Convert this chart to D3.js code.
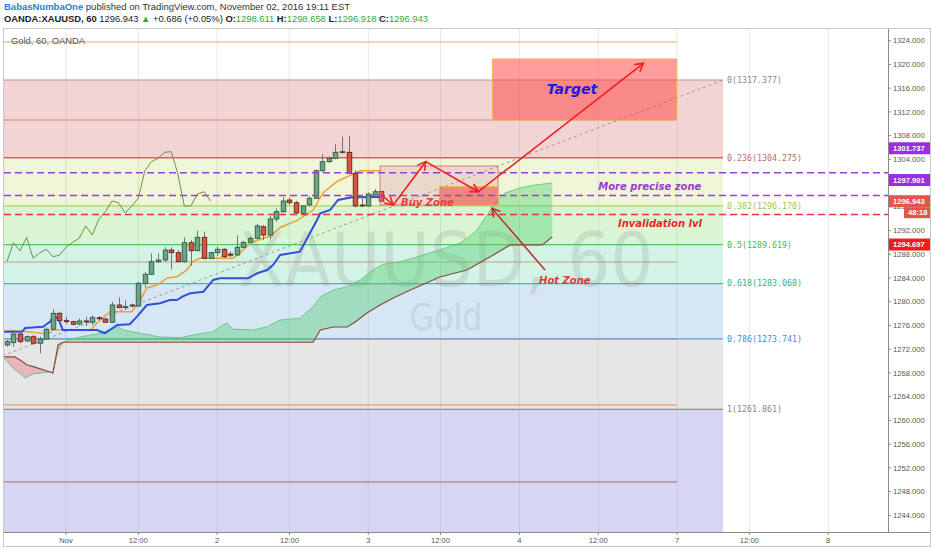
<!DOCTYPE html>
<html><head><meta charset="utf-8">
<script src="https://cdn.jsdelivr.net/npm/d3@7"></script>
<style>body{margin:0;background:#fff;}svg{display:block;font-family:"DejaVu Sans",sans-serif;}</style>
</head><body><svg id="c" width="932" height="550"></svg>
<script>
// ---------------- DATA ----------------
const firstBar = -9; // bar index of the first candle (0 = Nov 1 00:00)
const opens  = [1272.71,1273.10,1274.56,1273.38,1274.11,1273.00,1273.72,1275.36,1278.05,1276.81,1276.64,1276.25,1276.76,1276.54,1277.31,1277.09,1276.54,1279.45,1279.00,1279.45,1279.28,1283.11,1284.63,1286.75,1287.04,1288.72,1288.27,1286.75,1289.95,1288.60,1290.86,1287.32,1288.27,1288.84,1288.05,1287.88,1289.18,1290.02,1290.69,1292.65,1291.25,1293.95,1295.18,1297.15,1296.69,1294.91,1296.31,1297.44,1302.09,1303.61,1304.18,1305.19,1305.19,1301.65,1296.31,1296.14,1297.99,1298.61];
const highs  = [1273.55,1275.24,1274.96,1274.30,1274.40,1274.10,1275.70,1278.73,1278.30,1277.43,1276.80,1277.20,1277.43,1277.70,1277.60,1277.20,1280.00,1280.75,1280.20,1279.70,1283.40,1285.00,1288.17,1288.17,1289.20,1289.18,1288.70,1290.86,1290.41,1291.98,1291.81,1288.40,1289.30,1289.00,1288.50,1291.20,1290.30,1291.00,1293.10,1292.90,1294.50,1295.70,1297.60,1297.60,1297.00,1296.30,1297.80,1302.30,1304.85,1304.50,1306.54,1307.82,1307.94,1302.20,1298.00,1298.40,1298.99,1298.66];
const lows   = [1272.42,1272.42,1273.00,1273.20,1272.71,1271.31,1273.60,1275.20,1276.60,1276.25,1276.00,1276.00,1275.90,1276.10,1276.90,1276.40,1276.40,1278.90,1278.60,1279.00,1279.10,1282.40,1284.50,1286.50,1286.70,1285.47,1286.60,1286.60,1286.08,1288.50,1287.16,1287.20,1287.70,1287.40,1287.50,1287.70,1289.00,1289.90,1290.50,1290.40,1290.60,1293.50,1295.00,1296.30,1294.70,1294.80,1296.10,1297.30,1301.80,1303.40,1304.00,1305.00,1301.60,1295.90,1296.00,1296.00,1297.90,1296.92];
const closes = [1273.27,1274.56,1273.27,1274.11,1273.00,1273.72,1275.36,1278.05,1276.81,1276.64,1276.20,1276.76,1276.59,1277.31,1277.14,1276.54,1279.45,1279.00,1279.17,1279.28,1283.11,1284.63,1286.75,1287.04,1288.72,1288.27,1286.75,1289.95,1288.60,1290.86,1287.32,1288.27,1288.84,1287.59,1287.83,1289.18,1290.02,1290.69,1292.77,1291.25,1293.95,1295.18,1296.98,1296.69,1294.96,1296.14,1297.44,1302.09,1303.61,1304.18,1305.19,1305.30,1301.65,1296.14,1296.14,1298.16,1298.55,1296.94];

// Ichimoku lines, vertices as [bar index, price]
const tenkan = [[-9.4,1275.07],[-7.0,1275.07],[-4.0,1274.73],[-2.7,1274.56],[-2.0,1275.24],[3.7,1275.24],[4.7,1276.42],[5.6,1277.26],[6.7,1278.32],[10.0,1278.32],[10.8,1279.45],[11.3,1280.29],[12.3,1282.32],[13.9,1282.82],[15.4,1284.00],[16.9,1284.22],[18.4,1285.35],[19.3,1286.75],[20.4,1287.37],[25.4,1287.32],[26.5,1288.22],[28.0,1289.90],[30.0,1290.69],[31.1,1291.08],[32.6,1292.51],[35.2,1293.70],[37.6,1295.46],[39.1,1298.33],[41.2,1300.23],[42.8,1301.08],[44.8,1302.09],[48.0,1302.09]];
const kijun = [[-9.4,1274.95],[-6.7,1274.95],[-6.2,1275.58],[-3.5,1275.79],[-2.4,1276.64],[-2.0,1277.48],[-1.2,1277.26],[-0.5,1275.24],[4.7,1275.24],[5.9,1274.68],[7.8,1276.08],[9.7,1276.20],[10.8,1277.48],[12.3,1279.45],[14.3,1279.74],[15.8,1280.29],[16.9,1280.29],[17.7,1280.85],[18.9,1281.42],[20.9,1281.69],[22.4,1283.67],[23.4,1283.95],[27.7,1283.95],[29.1,1284.80],[30.6,1285.35],[31.5,1286.19],[32.6,1287.88],[35.6,1288.44],[36.7,1290.69],[38.2,1293.78],[38.7,1294.91],[40.2,1295.46],[41.4,1297.15],[43.5,1297.61],[48.0,1297.66]];
const chikouStart = -9;
const chikou = [1286.75,1289.95,1288.60,1290.86,1287.32,1288.27,1288.84,1287.59,1287.83,1289.18,1290.02,1290.69,1292.77,1291.25,1293.95,1295.18,1296.98,1296.69,1294.96,1296.14,1297.44,1302.09,1303.61,1304.18,1305.19,1305.30,1301.65,1296.14,1296.14,1298.16,1298.55,1296.94];
const senkouA = [[-9.4,1270.52],[-8.1,1268.83],[-6.2,1267.15],[-5.0,1267.82],[-2.4,1268.16],[-2.0,1267.99],[-1.2,1271.87],[-0.5,1273.05],[0.0,1273.38],[2.1,1274.06],[5.2,1274.68],[7.2,1275.52],[7.9,1275.79],[8.7,1275.24],[11.3,1274.68],[14.3,1274.06],[17.4,1273.94],[19.3,1274.40],[22.4,1274.95],[23.4,1275.79],[24.5,1276.42],[25.4,1275.36],[28.5,1275.24],[30.6,1275.79],[32.6,1276.92],[35.6,1277.21],[37.6,1279.17],[38.7,1280.85],[40.7,1281.98],[42.8,1282.54],[44.8,1283.67],[46.7,1285.35],[48.3,1286.31],[50.8,1286.70],[53.9,1287.71],[56.9,1288.72],[60.0,1289.90],[62.3,1291.76],[63.8,1294.12],[65.3,1296.64],[66.8,1298.33],[69.1,1299.17],[71.4,1299.68],[74.0,1300.02]];
const senkouB = [[-9.4,1270.69],[-7.8,1270.69],[-7.0,1270.18],[-5.9,1269.34],[-5.0,1269.05],[-2.4,1268.16],[-2.0,1267.99],[-1.2,1272.71],[-0.5,1273.17],[37.6,1273.17],[38.7,1275.24],[40.7,1275.74],[42.8,1275.74],[44.0,1276.59],[45.8,1278.10],[47.8,1279.45],[49.8,1280.63],[52.4,1281.98],[56.9,1284.17],[61.0,1285.35],[64.5,1287.54],[67.6,1289.57],[72.5,1289.57],[74.0,1290.91]];

// Fibonacci retracement
const fibRatios = [0,0.236,0.382,0.5,0.618,0.786,1,1.618];
const fibPrices = [1317.377,1304.275,1296.170,1289.619,1283.068,1273.741,1261.861,1227.550];
const fibAnchors = [[-31,1261.861],[100,1317.377]];
// second set of plain levels
const levelPrices = [1323.78,1310.63,1286.70,1273.72,1262.60,1249.62];
const levelEnd = 93;
// horizontal dashed lines
const purpleLines = [1301.737,1297.901];
const redLine = 1294.697;
// boxes [x0,x1,p0,p1]
const buyZone = [47.8,65.75,1302.88,1296.31];
const hotZone = [56.8,65.75,1299.39,1296.31];
const targetBox = [64.9,92.95,1320.92,1310.63];
// arrows
const zigzag = [[48.05,1297.99],[49.8,1296.31],[54.75,1303.61],[62.76,1298.55],[87.87,1320.19]];
const hotArrow = [[72.9,1285.36],[64.8,1295.75]];
const notes = [
  {t:"Target",i:77.0,p:1315.86},
  {t:"Buy Zone",i:51.0,p:1296.14},
  {t:"More precise zone",i:81.0,p:1298.83},
  {t:"Invalidation lvl",i:84.0,p:1292.60},
  {t:"Hot Zone",i:72.0,p:1283.00}
];
// axes
const priceTicks = [1244,1248,1252,1256,1260,1264,1268,1272,1276,1280,1284,1288,1292,1296,1300,1304,1308,1312,1316,1320,1324];
const timeTickIdx = [0,11,23,34,46,57,69,81,93,104,116];
const timeTickLabels = ["Nov","12:00","2","12:00","3","12:00","4","12:00","7","12:00","8"];
const lastPrice = 1296.943;
const countdown = "48:18";

// ---------------- LAYOUT / STYLE ----------------
const P = {l:4, r:888, t:29, b:532};
const x = d3.scaleLinear().domain([-9.44,125.1]).range([P.l,P.r]);
const y = d3.scaleLinear().domain([1244,1324]).range([515.3,40.7]);
const svg = d3.select("#c");
const defs = svg.append("defs");
defs.append("clipPath").attr("id","plot").append("rect").attr("x",P.l).attr("y",P.t).attr("width",P.r-P.l).attr("height",P.b-P.t);

const g = svg.append("g").attr("clip-path","url(#plot)");

// fib fills
const fibFill = ["#f3d4d4","#eff5d7","#d9f5d3","#d3f3e6","#d6e6f5","#e6e6e6","#d6d6f4"];
const fibLine = ["#c49090","#c46a6a","#a8d46c","#5cc35c","#3cc09c","#5c9bd6","#909090","#9090d0"];
const fibText = ["#888","#c46a6a","#a0c850","#4cb54c","#2cb48c","#3c91d6","#888","#88c"];
const fx0 = x(fibAnchors[0][0]), fx1 = x(fibAnchors[1][0]);
for (let k=0;k<fibPrices.length-1;k++){
  g.append("rect").attr("x",fx0).attr("width",fx1-fx0)
   .attr("y",y(fibPrices[k])).attr("height",y(fibPrices[k+1])-y(fibPrices[k]))
   .attr("fill",fibFill[k]);
}
// vertical grid
g.selectAll(".vg").data(timeTickIdx).join("line")
 .attr("x1",d=>x(d)).attr("x2",d=>x(d)).attr("y1",P.t).attr("y2",P.b)
 .attr("stroke","rgba(150,150,150,0.22)").attr("stroke-width",1);

// plain levels
const levelColors = ["#f0a868","#c98a80","#c9a080","#f0a868","#e0a070","#c07878"];
levelPrices.forEach((p,k)=>{
  g.append("line").attr("x1",fx0).attr("x2",x(levelEnd)).attr("y1",y(p)).attr("y2",y(p))
   .attr("stroke",levelColors[k]).attr("stroke-width",1.2);
});
// fib lines + labels (only levels inside the visible price range get a label)
const yDom = [y.invert(P.b), y.invert(P.t)];
fibPrices.forEach((p,k)=>{
  g.append("line").attr("x1",fx0).attr("x2",fx1).attr("y1",y(p)).attr("y2",y(p))
   .attr("stroke",fibLine[k]).attr("stroke-width",k==1?1.6:1.2);
  if (p>=yDom[0] && p<=yDom[1])
  g.append("text").attr("x",fx1+4).attr("y",y(p)).attr("dy","0.35em")
   .attr("font-family","DejaVu Sans Mono").attr("font-size",8.3).attr("fill",fibText[k])
   .text(fibRatios[k]+"("+p.toFixed(3)+")");
});

// watermark
g.append("text").attr("x",(P.l+P.r)/2).attr("y",286).attr("text-anchor","middle")
 .attr("font-family","DejaVu Sans").attr("font-size",74).attr("fill","rgba(130,130,130,0.18)")
 .attr("textLength",415).attr("lengthAdjust","spacingAndGlyphs").text("XAUUSD, 60");
g.append("text").attr("x",(P.l+P.r)/2).attr("y",330).attr("text-anchor","middle")
 .attr("font-family","DejaVu Sans").attr("font-size",38).attr("fill","rgba(130,130,130,0.18)")
 .attr("textLength",73).attr("lengthAdjust","spacingAndGlyphs").text("Gold");

// cloud
const interp = (pts,t)=>{ for(let k=0;k<pts.length-1;k++){ if(t>=pts[k][0]&&t<=pts[k+1][0]){ const u=(t-pts[k][0])/(pts[k+1][0]-pts[k][0]); return pts[k][1]+u*(pts[k+1][1]-pts[k][1]); } } return null; };
let cross = senkouA[0][0];
for (let t=senkouA[0][0]; t<10; t+=0.01){ const a=interp(senkouA,t), b=interp(senkouB,t); if(a!=null&&b!=null&&a>b){cross=t;break;} }
defs.append("clipPath").attr("id","cl").append("rect").attr("x",0).attr("y",0).attr("width",x(cross)).attr("height",550);
defs.append("clipPath").attr("id","cr").append("rect").attr("x",x(cross)).attr("y",0).attr("width",932).attr("height",550);
const poly = senkouA.concat(senkouB.slice().reverse());
const polyPath = "M"+poly.map(d=>x(d[0])+","+y(d[1])).join("L")+"Z";
g.append("g").attr("clip-path","url(#cl)").append("path").attr("d",polyPath).attr("fill","rgba(232,95,105,0.35)");
g.append("g").attr("clip-path","url(#cr)").append("path").attr("d",polyPath).attr("fill","rgba(70,205,105,0.38)");
const line = d3.line().x(d=>x(d[0])).y(d=>y(d[1]));
g.append("path").attr("d",line(senkouA)).attr("fill","none").attr("stroke","rgba(90,190,110,0.75)").attr("stroke-width",1);
g.append("path").attr("d",line(senkouB)).attr("fill","none").attr("stroke","#8b4a3c").attr("stroke-width",1.2);

// trend line of fib tool
g.append("line").attr("x1",x(fibAnchors[0][0])).attr("y1",y(fibAnchors[0][1]))
 .attr("x2",x(fibAnchors[1][0])).attr("y2",y(fibAnchors[1][1]))
 .attr("stroke","#9a9a9a").attr("stroke-width",1).attr("stroke-dasharray","3,3");

// chikou, tenkan, kijun
g.append("path").attr("d",line(chikou.map((v,k)=>[chikouStart+k,v]))).attr("fill","none").attr("stroke","#6f8f45").attr("stroke-width",1);
g.append("path").attr("d",line(tenkan)).attr("fill","none").attr("stroke","#f0a030").attr("stroke-width",1.5);
g.append("path").attr("d",line(kijun)).attr("fill","none").attr("stroke","#2f4fdc").attr("stroke-width",2);

// candles
const candles = opens.map((o,k)=>({i:firstBar+k,o:o,h:highs[k],l:lows[k],c:closes[k]}));
const bw = 4.6;
const cg = g.append("g");
cg.selectAll(".w").data(candles).join("line")
  .attr("x1",d=>Math.round(x(d.i))+0.5).attr("x2",d=>Math.round(x(d.i))+0.5)
  .attr("y1",d=>y(d.h)).attr("y2",d=>y(d.l)).attr("stroke","#737375").attr("stroke-width",1);
cg.selectAll(".b").data(candles).join("rect")
  .attr("x",d=>Math.round(x(d.i))+0.5-bw/2).attr("width",bw)
  .attr("y",d=>y(Math.max(d.o,d.c))).attr("height",d=>Math.max(1,Math.abs(y(d.o)-y(d.c))))
  .attr("fill",d=>d.c>=d.o?"#6ba583":"#d75442").attr("stroke",d=>d.c>=d.o?"#225437":"#5b1a13").attr("stroke-width",0.8);

// boxes
const box = (b,fill,stroke)=>g.append("rect").attr("x",x(b[0])).attr("width",x(b[1])-x(b[0]))
  .attr("y",y(b[2])).attr("height",y(b[3])-y(b[2])).attr("fill",fill).attr("stroke",stroke).attr("stroke-width",1);
box(buyZone,"rgba(215,120,160,0.22)","#e07878");
box(hotZone,"rgba(240,70,70,0.55)","#f0b050");
box(targetBox,"rgba(255,60,60,0.5)","#f3b25e");

// dashed horizontals
purpleLines.forEach(p=>g.append("line").attr("x1",P.l).attr("x2",P.r).attr("y1",y(p)).attr("y2",y(p))
  .attr("stroke","#9b3fd8").attr("stroke-width",1.6).attr("stroke-dasharray","7,4"));
g.append("line").attr("x1",P.l).attr("x2",P.r).attr("y1",y(redLine)).attr("y2",y(redLine))
  .attr("stroke","#e8343a").attr("stroke-width",1.6).attr("stroke-dasharray","7,4");

// arrows
const mk = (id,col)=>defs.append("marker").attr("id",id).attr("viewBox","-10 -6 12 12").attr("refX",0).attr("refY",0)
  .attr("markerWidth",12).attr("markerHeight",12).attr("markerUnits","userSpaceOnUse").attr("orient","auto")
  .append("path").attr("d","M-8,-4.5L0,0L-8,4.5").attr("fill","none").attr("stroke",col).attr("stroke-width",1.6);
mk("ar","#f02020"); mk("ab","#c03030");
for (let k=0;k<zigzag.length-1;k++){
  g.append("line").attr("x1",x(zigzag[k][0])).attr("y1",y(zigzag[k][1])).attr("x2",x(zigzag[k+1][0])).attr("y2",y(zigzag[k+1][1]))
   .attr("stroke","#f02020").attr("stroke-width",1.6).attr("marker-end","url(#ar)");
}
g.append("line").attr("x1",x(hotArrow[0][0])).attr("y1",y(hotArrow[0][1])).attr("x2",x(hotArrow[1][0])).attr("y2",y(hotArrow[1][1]))
 .attr("stroke","#c03030").attr("stroke-width",1.6).attr("marker-end","url(#ab)");

// notes
const noteStyle = {"Target":{c:"#1c1cd6",s:14,a:"middle",dy:"0.35em"},"Buy Zone":{c:"#e04040",s:10,a:"start",dy:0},
  "More precise zone":{c:"#9a3ad6",s:10,a:"start",dy:0},"Invalidation lvl":{c:"#e02828",s:10,a:"start",dy:0},"Hot Zone":{c:"#d83a3a",s:10,a:"start",dy:0}};
notes.forEach(n=>{ const st=noteStyle[n.t];
  g.append("text").attr("x",x(n.i)).attr("y",y(n.p)).attr("dy",st.dy).attr("text-anchor",st.a)
   .attr("font-size",st.s).attr("font-weight","bold").attr("font-style","italic").attr("fill",st.c).text(n.t); });

// series label
svg.append("text").attr("x",11).attr("y",44).attr("font-family","Liberation Sans").attr("font-size",9.4).attr("fill","#555").text("Gold, 60, OANDA");

// ---------------- AXES ----------------
svg.append("rect").attr("x",P.r).attr("y",P.t).attr("width",930-P.r).attr("height",P.b-P.t).attr("fill","#fff");
svg.append("line").attr("x1",P.r+0.5).attr("x2",P.r+0.5).attr("y1",P.t).attr("y2",P.b).attr("stroke","#8a8a8a");
const ya = svg.append("g");
ya.selectAll("line").data(priceTicks).join("line").attr("x1",P.r).attr("x2",P.r+3).attr("y1",d=>y(d)).attr("y2",d=>y(d)).attr("stroke","#8a8a8a");
ya.selectAll("text").data(priceTicks).join("text").attr("x",P.r+5).attr("y",d=>y(d)).attr("dy","0.35em")
  .attr("font-family","Liberation Sans").attr("font-size",7.6).attr("fill","#555").text(d=>d3.format(".3f")(d));
// price tags (label layout shifts avoid overlap)
const tags = [
  {v:purpleLines[0],c:"#9a2fe0",shift:-24.5},
  {v:purpleLines[1],c:"#9a2fe0",shift:-15.5},
  {v:lastPrice,c:"#e0584b",shift:0},
  {v:redLine,c:"#f21c1c",shift:30}
];
tags.forEach(t=>{ const yy=y(t.v)+t.shift;
  svg.append("rect").attr("x",P.r+1).attr("y",yy-6).attr("width",41).attr("height",12).attr("fill",t.c);
  svg.append("text").attr("x",P.r+5).attr("y",yy).attr("dy","0.35em").attr("font-family","Liberation Sans")
   .attr("font-size",7.6).attr("font-weight","bold").attr("fill","#fff").text(t.v.toFixed(3)); });
{ const yy=y(lastPrice)+11.5;
  svg.append("rect").attr("x",P.r+16).attr("y",yy-5.5).attr("width",26).attr("height",11).attr("fill","#e0584b");
  svg.append("text").attr("x",P.r+20).attr("y",yy).attr("dy","0.35em").attr("font-family","Liberation Sans")
   .attr("font-size",7.6).attr("font-weight","bold").attr("fill","#fff").text(countdown); }

svg.append("line").attr("x1",P.l).attr("x2",930).attr("y1",P.b+0.5).attr("y2",P.b+0.5).attr("stroke","#8a8a8a");
const xa = svg.append("g");
xa.selectAll("line").data(timeTickIdx).join("line").attr("x1",d=>x(d)).attr("x2",d=>x(d)).attr("y1",P.b).attr("y2",P.b+3).attr("stroke","#8a8a8a");
xa.selectAll("text").data(timeTickIdx).join("text").attr("x",d=>x(d)).attr("y",P.b+10.5).attr("text-anchor","middle")
  .attr("font-family","Liberation Sans").attr("font-size",7.6).attr("fill","#555").text((d,k)=>timeTickLabels[k]);

// frame
svg.append("rect").attr("x",3.5).attr("y",P.t-0.5).attr("width",927).attr("height",518).attr("fill","none").attr("stroke","#c8c8c8");

// header
const h1 = svg.append("text").attr("x",4).attr("y",10).attr("font-family","Liberation Sans").attr("font-size",9.5).attr("fill","#333");
h1.append("tspan").attr("fill","#2a80d0").attr("font-weight","bold").text("BabasNumbaOne");
h1.append("tspan").text(" published on TradingView.com, November 02, 2016 19:11 EST");
const h2 = svg.append("text").attr("x",4).attr("y",22).attr("font-family","Liberation Sans").attr("font-size",9.4).attr("fill","#222");
h2.append("tspan").attr("font-weight","bold").text("OANDA:XAUUSD, 60");
h2.append("tspan").text(" 1296.943 ");
h2.append("tspan").attr("fill","#2fa83f").text("▲");
h2.append("tspan").text(" +0.686 (+0.05%) ");
[["O:","1298.611"],["H:","1298.658"],["L:","1296.918"],["C:","1296.943"]].forEach((p,k)=>{
  h2.append("tspan").attr("font-weight","bold").text((k?" ":"")+p[0]);
  h2.append("tspan").attr("fill","#2fa83f").text(p[1]);
});
</script></body></html>
